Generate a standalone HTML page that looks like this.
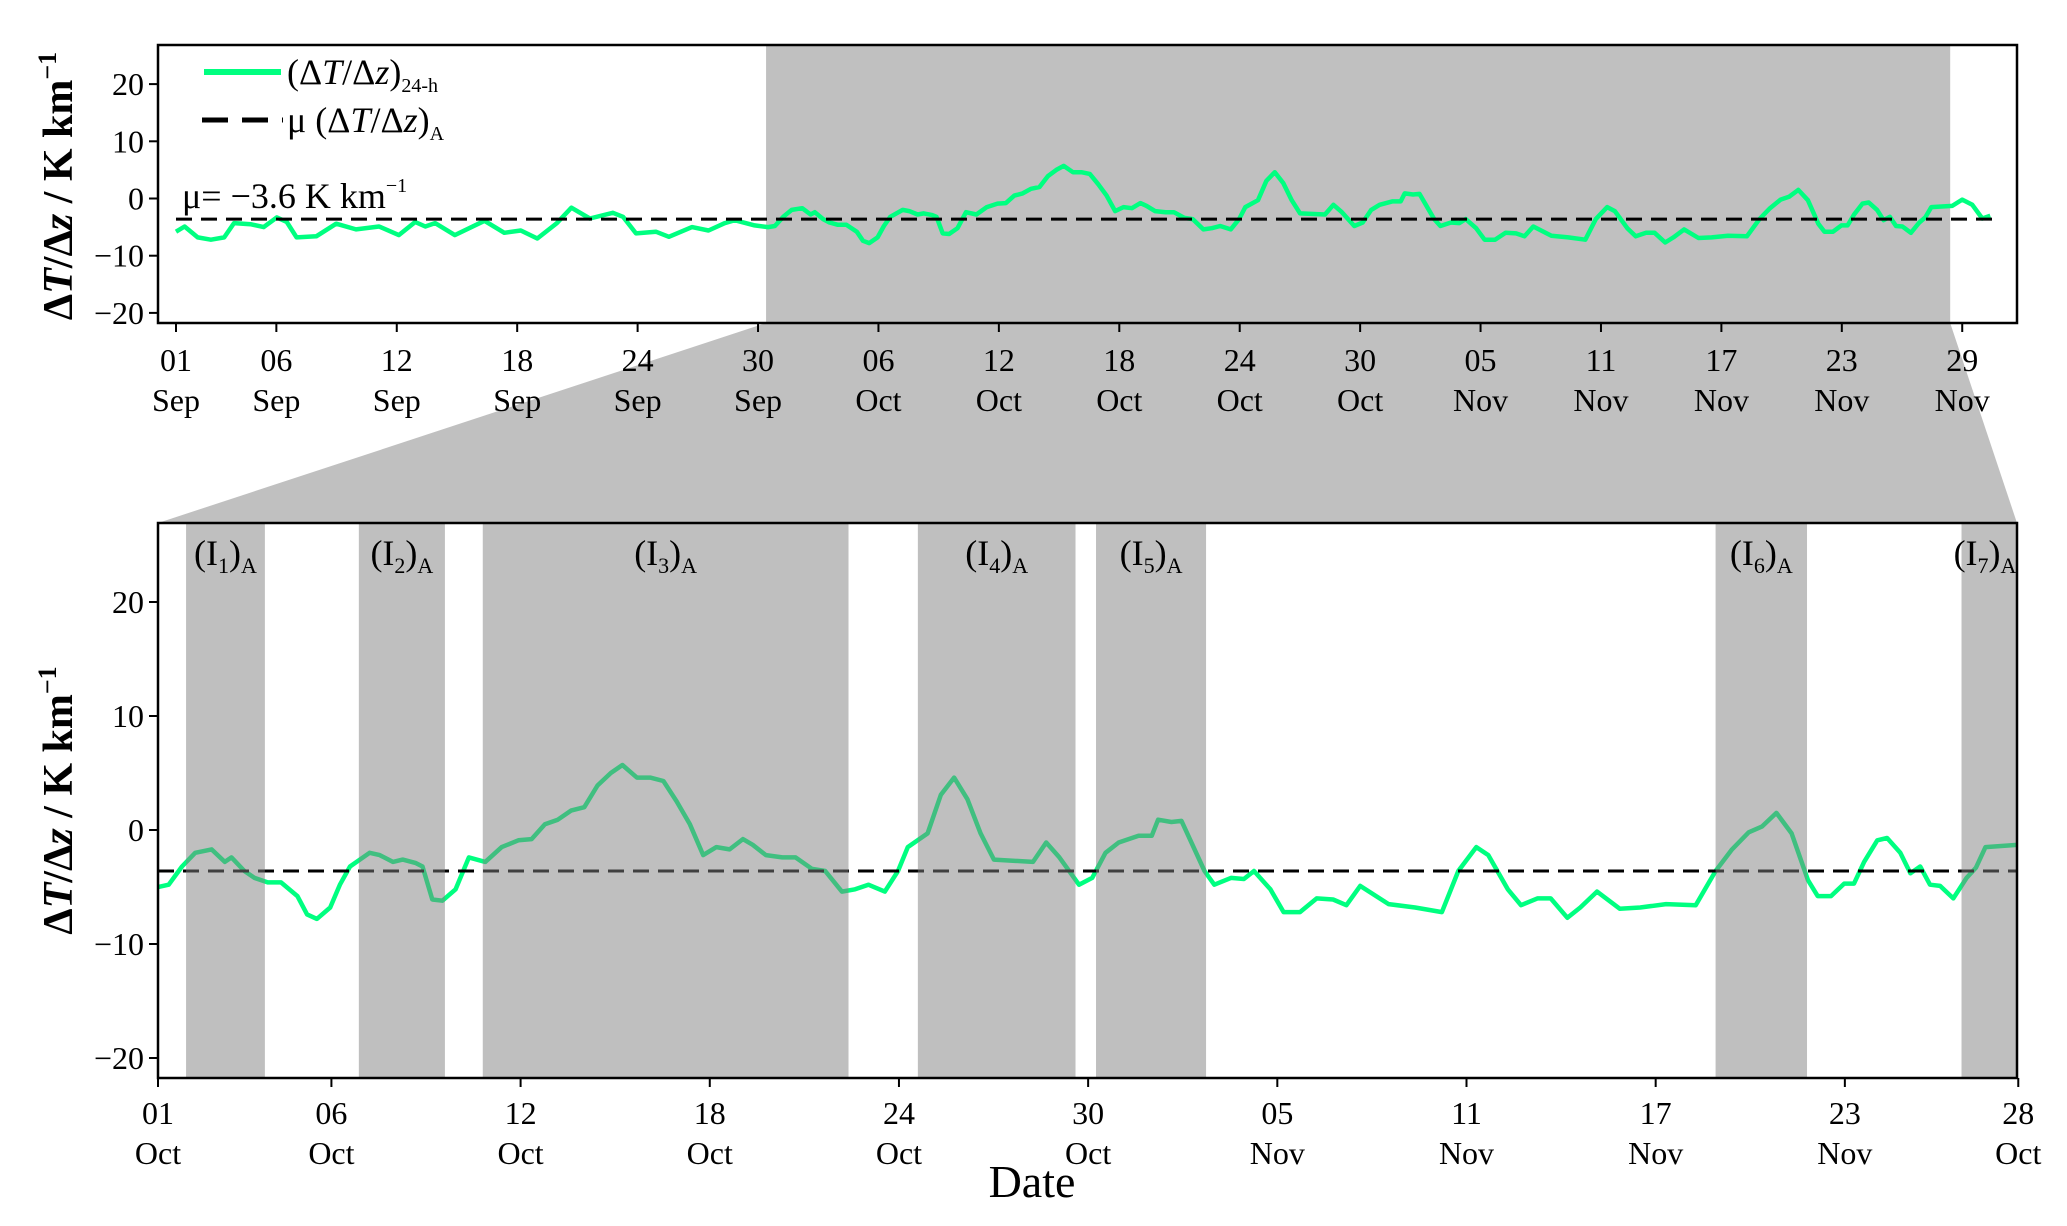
<!DOCTYPE html>
<html><head><meta charset="utf-8"><style>
html,body{margin:0;padding:0;background:#fff;}
svg{display:block;font-family:"Liberation Serif",serif;}
</style></head><body>
<svg id="c" width="2067" height="1226" viewBox="0 0 2067 1226" xmlns="http://www.w3.org/2000/svg"></svg>
<script>
// data: t = days since 01 Sep, v = dT/dz (K/km)
const seriesT = [0,0.43,1.08,1.74,2.40,2.89,3.71,4.37,5.02,5.52,6.01,6.99,7.98,8.97,10.12,11.10,11.92,12.42,12.91,13.89,15.37,16.36,17.18,18.00,18.98,19.70,20.62,21.77,22.27,22.92,23.91,24.56,25.71,26.53,27.35,27.84,28.83,29.5,
29.84,30.26,30.68,31.20,31.62,31.83,32.24,32.56,32.98,33.40,33.92,34.23,34.54,34.96,35.27,35.59,36.21,36.53,36.95,37.26,37.68,37.89,38.20,38.52,38.94,39.36,39.88,40.40,40.93,41.35,41.77,42.18,42.60,43.02,43.44,43.86,44.23,44.69,45.11,45.53,45.95,46.37,46.79,47.21,47.63,48.05,48.36,48.78,49.30,49.72,50.24,50.66,51.19,51.61,52.03,52.55,52.97,53.28,53.91,54.33,54.75,55.17,55.59,56.01,
57.25,57.67,58.09,58.71,59.13,59.55,59.97,60.60,61.02,61.22,61.64,61.96,62.69,63.00,63.53,63.94,64.26,64.78,65.20,65.72,66.25,66.77,67.19,67.63,68.53,69.37,70.22,70.74,71.31,71.69,72.31,72.73,73.25,73.67,74.20,74.61,75.14,75.86,76.51,77.33,78.27,78.90,79.42,79.95,80.37,80.83,81.31,81.83,82.14,82.56,82.98,83.29,83.61,84.03,84.34,84.76,85.08,85.39,85.70,86.02,86.44,86.86,87.16,87.46,88.5,89.0,89.5,90.0,90.4];
const seriesV = [-5.8,-4.9,-6.8,-7.2,-6.8,-4.3,-4.5,-5.0,-3.3,-4.1,-6.8,-6.6,-4.4,-5.4,-4.9,-6.4,-4.1,-4.9,-4.3,-6.4,-3.9,-6.0,-5.6,-7.0,-4.3,-1.6,-3.5,-2.5,-3.2,-6.1,-5.8,-6.7,-5.0,-5.6,-4.3,-3.8,-4.7,-5.0,
-4.8,-3.2,-2.0,-1.7,-2.8,-2.4,-3.6,-4.2,-4.6,-4.6,-5.8,-7.4,-7.8,-6.8,-4.8,-3.2,-2.0,-2.2,-2.8,-2.6,-2.9,-3.2,-6.1,-6.2,-5.2,-2.4,-2.8,-1.5,-0.9,-0.8,0.5,0.9,1.7,2.0,3.9,5.0,5.7,4.6,4.6,4.3,2.5,0.5,-2.2,-1.5,-1.7,-0.8,-1.3,-2.2,-2.4,-2.4,-3.4,-3.6,-5.4,-5.2,-4.8,-5.4,-3.6,-1.5,-0.3,3.1,4.6,2.7,-0.3,-2.6,
-2.8,-1.1,-2.4,-4.8,-4.2,-2.0,-1.1,-0.5,-0.5,0.9,0.7,0.8,-3.6,-4.8,-4.2,-4.3,-3.6,-5.2,-7.2,-7.2,-6.0,-6.1,-6.6,-4.9,-6.5,-6.8,-7.2,-3.6,-1.5,-2.2,-5.2,-6.6,-6.0,-6.0,-7.7,-6.8,-5.4,-6.9,-6.8,-6.5,-6.6,-3.6,-1.7,-0.2,0.3,1.5,-0.3,-4.4,-5.8,-5.8,-4.7,-4.7,-2.8,-0.9,-0.7,-2.0,-3.8,-3.2,-4.8,-4.9,-6.0,-4.2,-3.3,-1.5,-1.3,-0.2,-1.1,-3.5,-3.0,-3.1,-3.5];
const meanValue = -3.6;
const topTickT = [0,5,11,17,23,29,35,41,47,53,59,65,71,77,83,89];
const topTickDay = ["01","06","12","18","24","30","06","12","18","24","30","05","11","17","23","29"];
const topTickMon = ["Sep","Sep","Sep","Sep","Sep","Sep","Oct","Oct","Oct","Oct","Oct","Nov","Nov","Nov","Nov","Nov"];
const botTickT = [29.5,35,41,47,53,59,65,71,77,83,88.5];
const botTickDay = ["01","06","12","18","24","30","05","11","17","23","28"];
const botTickMon = ["Oct","Oct","Oct","Oct","Oct","Oct","Nov","Nov","Nov","Nov","Oct"];
const yTicks = [20,10,0,-10,-20];
const zoomRange = [29.4,88.4];
const intervalStart = [30.39,35.87,39.8,53.6,59.25,78.9,86.7];
const intervalEnd = [32.89,38.6,51.4,58.6,62.74,81.8,88.5];
const intervalName = ["1","2","3","4","5","6","7"];

const NS="http://www.w3.org/2000/svg";
const svg=document.getElementById('c');
function mk(tag,attrs,parent){const e=document.createElementNS(NS,tag);for(const k in attrs)e.setAttribute(k,attrs[k]);(parent||svg).appendChild(e);return e;}
const T={x0:158,x1:2017,y0:45,y1:323,tx:t=>176+t*20.07,vy:v=>198.5-v*5.72,tMin:-0.9,tMax:91.7};
const B={x0:158,x1:2017,y0:523,y1:1078,tx:t=>158+(t-29.5)*31.53,vy:v=>830-v*11.4,tMin:29.5,tMax:88.5};

const trap=mk('polygon',{points:`${T.tx(zoomRange[0])},${T.y1} ${T.tx(zoomRange[1])},${T.y1} ${B.x1},${B.y0} ${B.x0},${B.y0}`,fill:'#c0c0c0'});



function linePath(ax,tmin,tmax){let d='';for(let i=0;i<seriesT.length;i++){const t=seriesT[i];if(t<tmin-0.01||t>tmax+0.01)continue;d+=(d?'L':'M')+ax.tx(t).toFixed(1)+','+ax.vy(seriesV[i]).toFixed(1);}return d;}

function panel(ax,name,ticksT,tDay,tMon,shadeAbove){
  const g=mk('g',{});
  
  
  const cid='clip-'+name;
  const cp=mk('clipPath',{id:cid},g);mk('rect',{x:ax.x0,y:ax.y0,width:ax.x1-ax.x0,height:ax.y1-ax.y0},cp);
  mk('rect',{x:ax.x0,y:ax.y0,width:ax.x1-ax.x0,height:ax.y1-ax.y0,fill:'#fff'},g);
  const inner=mk('g',{'clip-path':`url(#${cid})`},g);
  const drawShades=()=>{
    if(!shadeAbove){
      const r=mk('rect',{x:ax.tx(zoomRange[0]),y:ax.y0,width:ax.tx(zoomRange[1])-ax.tx(zoomRange[0]),height:ax.y1-ax.y0,fill:'#c0c0c0'},inner);
      
      
    } else {
      for(let i=0;i<intervalStart.length;i++){
        const r=mk('rect',{x:ax.tx(intervalStart[i]),y:ax.y0,width:ax.tx(intervalEnd[i])-ax.tx(intervalStart[i]),height:ax.y1-ax.y0,fill:'rgb(128,128,128)','fill-opacity':'0.5'},inner);
        
        
      }
    }
  };
  if(!shadeAbove) drawShades();
  const p=mk('path',{d:linePath(ax,ax.tMin,ax.tMax),fill:'none',stroke:'#00ff80','stroke-width':4.5,'stroke-linejoin':'round'},inner);
  
  
  const m=mk('line',{x1:ax.x0+(shadeAbove?0:18),x2:ax.x1-(shadeAbove?0:18),y1:ax.vy(meanValue),y2:ax.vy(meanValue),stroke:'#000','stroke-width':3,'stroke-dasharray':'16,9'},inner);
  
  
  if(shadeAbove){drawShades();
    for(let i=0;i<intervalStart.length;i++){
      const cx=i==6?1985:(ax.tx(intervalStart[i])+ax.tx(intervalEnd[i]))/2;
      const tx=mk('text',{x:cx,y:565,'font-size':36,'text-anchor':'middle'},g);
      tx.innerHTML=`(I<tspan font-size="22" dy="8">${intervalName[i]}</tspan><tspan dy="-8">)</tspan><tspan font-size="22" dy="8">A</tspan>`;
      
      
    }
  }
  const fr=mk('rect',{x:ax.x0,y:ax.y0,width:ax.x1-ax.x0,height:ax.y1-ax.y0,fill:'none',stroke:'#000','stroke-width':2.5},g);
  
  
  yTicks.forEach(v=>{const y=ax.vy(v);mk('line',{x1:ax.x0-9,x2:ax.x0,y1:y,y2:y,stroke:'#000','stroke-width':2},g);
    const t=mk('text',{x:ax.x0-14,y:y+11,'font-size':32,'text-anchor':'end'},g);t.textContent=(v<0?'\u2212':'')+Math.abs(v);
    
    });
  const big=shadeAbove;
  ticksT.forEach((tt,i)=>{const x=ax.tx(tt);mk('line',{x1:x,x2:x,y1:ax.y1,y2:ax.y1+9,stroke:'#000','stroke-width':2},g);
    const a=mk('text',{x:x,y:ax.y1+(big?46:48),'font-size':32,'text-anchor':'middle'},g);a.textContent=tDay[i];
    
    
    const b=mk('text',{x:x,y:ax.y1+(big?86:88),'font-size':32,'text-anchor':'middle'},g);b.textContent=tMon[i];
    
    });
  const yt=mk('text',{x:0,y:0,'font-size':42,'font-weight':'bold','text-anchor':'middle',transform:`translate(72,${(ax.y0+ax.y1)/2+(big?0:2)}) rotate(-90)`},g);
  yt.innerHTML='\u0394<tspan font-style="italic">T</tspan>/\u0394<tspan font-style="italic">z</tspan> / K km<tspan font-size="26" dy="-16">\u22121</tspan>';
  
  
  return g;
}
panel(T,'overview-panel',topTickT,topTickDay,topTickMon,false);
panel(B,'zoom-panel',botTickT,botTickDay,botTickMon,true);

const lg=mk('g',{});


mk('line',{x1:204,x2:281,y1:72,y2:72,stroke:'#00ff80','stroke-width':6},lg);
const l1=mk('text',{x:287,y:84,'font-size':36},lg);
l1.innerHTML='(\u0394<tspan font-style="italic">T</tspan>/\u0394<tspan font-style="italic">z</tspan>)<tspan font-size="20" dy="8">24-h</tspan>';


mk('line',{x1:202,x2:283,y1:120,y2:120,stroke:'#000','stroke-width':5,'stroke-dasharray':'26,14'},lg);
const l2=mk('text',{x:287,y:132,'font-size':36},lg);
l2.innerHTML='\u03bc (\u0394<tspan font-style="italic">T</tspan>/\u0394<tspan font-style="italic">z</tspan>)<tspan font-size="20" dy="8">A</tspan>';


const mu=mk('text',{x:182,y:208,'font-size':36});
mu.innerHTML='\u03bc= \u22123.6 K km<tspan font-size="20" dy="-16">\u22121</tspan>';


const xt=mk('text',{x:1032,y:1197,'font-size':46,'text-anchor':'middle'});
xt.textContent='Date';


</script>
</body></html>
